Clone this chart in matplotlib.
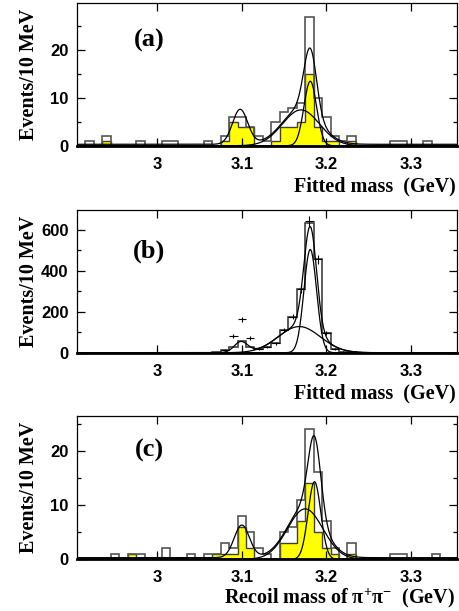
import numpy as np
import matplotlib
matplotlib.use("Agg")
import matplotlib.pyplot as plt

plt.rcParams['mathtext.fontset'] = 'custom'
plt.rcParams['mathtext.rm'] = 'Liberation Serif:bold'
plt.rcParams['mathtext.it'] = 'Liberation Serif:bold:italic'
plt.rcParams['mathtext.default'] = 'rm'

# binning: 10 MeV bins from 2.905 to 3.355 GeV
edges = np.round(np.arange(2.905, 3.3551, 0.01), 3)

# (a) fitted mass, open histogram and yellow sub-sample
a_x = [2.92, 2.94, 2.98, 3.01, 3.02, 3.06, 3.08, 3.09, 3.10, 3.11, 3.12, 3.13,
       3.14, 3.15, 3.16, 3.17, 3.18, 3.19, 3.20, 3.21, 3.22, 3.23, 3.28, 3.29, 3.32]
a_open = [1, 2, 1, 1, 1, 1, 2, 6, 6, 4, 2, 1,
          5, 7, 8, 9, 27, 10, 6, 2, 1, 2, 1, 1, 1]
a_yx = [2.94, 3.08, 3.09, 3.10, 3.11, 3.14, 3.15, 3.16, 3.17, 3.18, 3.19, 3.20, 3.21, 3.23]
a_yel = [1, 1, 5, 4, 4, 1, 4, 4, 5, 15, 4, 1, 1, 1]

# (b) fitted mass, histogram and data points
b_x = [3.07, 3.08, 3.09, 3.10, 3.11, 3.12, 3.13, 3.14, 3.15, 3.16, 3.17, 3.18,
       3.19, 3.20, 3.21, 3.22, 3.23]
b_hist = [3, 13, 30, 57, 30, 18, 29, 46, 111, 176, 310, 633, 457, 95, 20, 6, 2]
b_pts = [3, 13, 82, 163, 73, 18, 29, 46, 111, 176, 310, 645, 457, 95, 20, 6, 2]

# (c) recoil mass of pi+pi-
c_x = [2.95, 2.97, 2.98, 3.01, 3.04, 3.06, 3.07, 3.08, 3.09, 3.10, 3.11, 3.12,
       3.13, 3.15, 3.16, 3.17, 3.18, 3.19, 3.20, 3.21, 3.23, 3.28, 3.29, 3.33]
c_open = [1, 1, 1, 2, 1, 1, 1, 3, 2, 8, 5, 2,
          1, 5, 6, 11, 24, 16, 7, 2, 3, 1, 1, 1]
c_yx = [2.97, 3.07, 3.08, 3.09, 3.10, 3.11, 3.15, 3.16, 3.17, 3.18, 3.19, 3.20, 3.21, 3.23]
c_yel = [1, 1, 1, 1, 6, 2, 3, 3, 7, 14, 5, 2, 1, 1]

# fit components: (amplitude, mean, sigma), flat background
a_fit = {'bg': 0.3, 'jpsi': (7.3, 3.098, 0.009), 'broad': (7.5, 3.170, 0.022), 'narrow': (13.5, 3.181, 0.0075)}
b_fit = {'bg': 0.3, 'jpsi': (52, 3.099, 0.008), 'broad': (128, 3.168, 0.025), 'narrow': (505, 3.181, 0.0075)}
c_fit = {'bg': 0.3, 'jpsi': (6.0, 3.100, 0.009), 'broad': (9.3, 3.175, 0.021), 'narrow': (14.3, 3.186, 0.0075)}


def gauss(x, p):
    amp, mu, sig = p
    return amp * np.exp(-0.5 * ((x - mu) / sig) ** 2)


def draw_fit(ax, fit):
    xx = np.linspace(edges[0], edges[-1], 900)
    total = fit['bg'] + gauss(xx, fit['jpsi']) + gauss(xx, fit['broad']) + gauss(xx, fit['narrow'])
    ax.plot(xx, total, color='black', lw=0.9)
    ax.plot(xx, gauss(xx, fit['broad']), color='black', lw=0.9)
    ax.plot(xx, gauss(xx, fit['narrow']), color='black', lw=0.9)


def style(ax, ymax, major, minor, letter, xlabel, ly, xly):
    ax.set_xlim(edges[0], edges[-1])
    ax.set_ylim(0, ymax)
    ax.set_xticks([3.0, 3.1, 3.2, 3.3])
    ax.set_xticklabels(['3', '3.1', '3.2', '3.3'])
    ax.set_yticks(np.arange(0, ymax, major))
    ax.set_yticks(np.arange(0, ymax, minor), minor=True)
    ax.tick_params(which='both', direction='in', top=True, right=True, width=0.9)
    ax.tick_params(which='major', length=6, pad=6)
    ax.tick_params(axis='x', which='major', pad=8)
    ax.tick_params(which='minor', length=3)
    for lab in ax.get_xticklabels() + ax.get_yticklabels():
        lab.set_fontfamily('Liberation Sans')
        lab.set_fontweight('bold')
        lab.set_fontsize(12)
    for s in ax.spines.values():
        s.set_linewidth(0.9)
    ax.spines['bottom'].set_linewidth(2.0)
    ax.set_ylabel('Events/10 MeV', family='Liberation Serif', weight='bold', fontsize=14.5)
    ax.yaxis.set_label_coords(-0.1, 0.5)
    ax.set_xlabel(xlabel, family='Liberation Serif', weight='bold', fontsize=14.5, ha='right', va='top')
    ax.xaxis.set_label_coords(0.995, xly)
    ax.text(0.19, ly, letter, transform=ax.transAxes, family='Liberation Serif',
            weight='bold', fontsize=19, ha='center', va='center')


fig = plt.figure(figsize=(4.59, 6.11), dpi=100)
ax1 = fig.add_axes([0.1678, 0.7615, 0.8285, 0.233])
ax2 = fig.add_axes([0.1678, 0.4227, 0.8285, 0.2336])
ax3 = fig.add_axes([0.1678, 0.0846, 0.8285, 0.2345])

# (a)
ax1.hist(a_yx, bins=edges, weights=a_yel, histtype='stepfilled', facecolor='#ffff00',
         edgecolor='#404040', lw=1.0)
ax1.hist(a_x, bins=edges, weights=a_open, histtype='step', color='#555555', lw=1.2)
draw_fit(ax1, a_fit)
style(ax1, 29.8, 10, 5, '(a)', 'Fitted mass  (GeV)', 0.74, -0.215)

# (b)
ax2.hist(b_x, bins=edges, weights=b_hist, histtype='step', color='#404040', lw=1.2)
ax2.errorbar(b_x, b_pts, xerr=0.005, yerr=np.sqrt(b_pts), fmt='none', ecolor='black',
             elinewidth=0.8, capsize=0)
draw_fit(ax2, b_fit)
style(ax2, 698, 200, 100, '(b)', 'Fitted mass  (GeV)', 0.71, -0.215)

# (c)
ax3.hist(c_yx, bins=edges, weights=c_yel, histtype='stepfilled', facecolor='#ffff00',
         edgecolor='#404040', lw=1.0)
ax3.hist(c_x, bins=edges, weights=c_open, histtype='step', color='#555555', lw=1.2)
draw_fit(ax3, c_fit)
style(ax3, 26.4, 10, 5, '(c)', r'Recoil mass of $\pi^{+}\pi^{-}$  (GeV)', 0.763, -0.19)

fig.savefig('out.png', dpi=100)
